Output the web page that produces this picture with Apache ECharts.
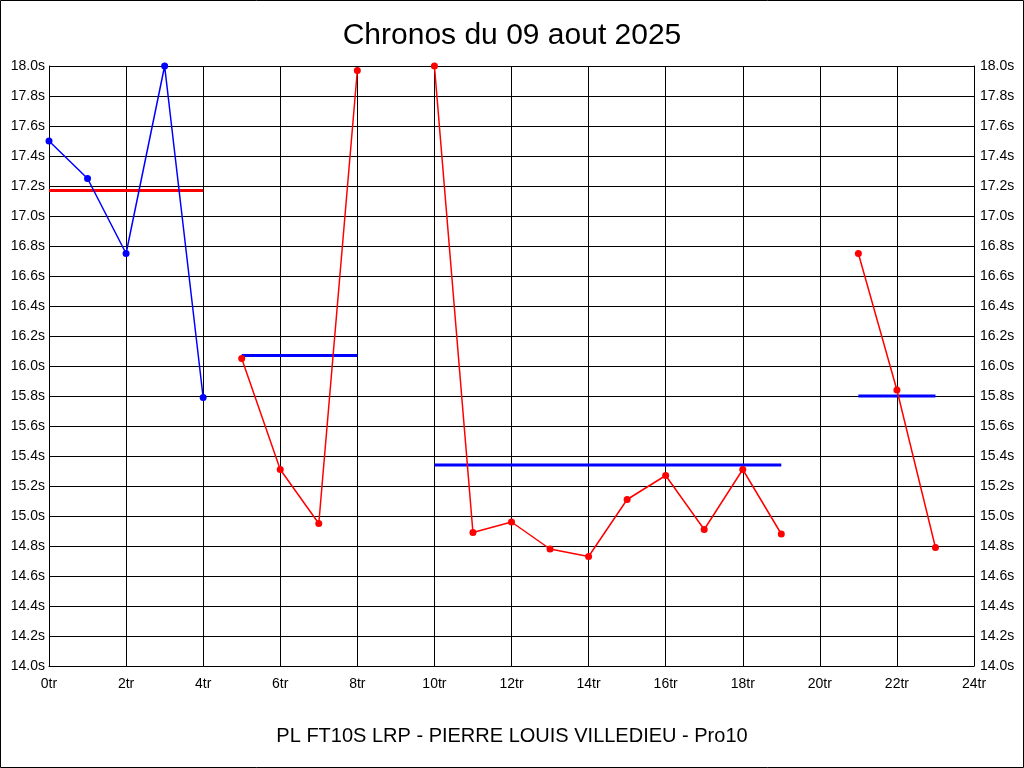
<!DOCTYPE html>
<html>
<head>
<meta charset="utf-8">
<script src="https://cdn.jsdelivr.net/npm/echarts@6/dist/echarts.min.js"></script>
<style>
html,body{margin:0;padding:0;background:#fff;}
#chart{width:1024px;height:768px;}
</style>
</head>
<body>
<div id="chart"></div>
<script>
var titleText = 'Chronos du 09 aout 2025';
var subtitleText = 'PL FT10S LRP - PIERRE LOUIS VILLEDIEU - Pro10';

// Laps (x) and lap times in seconds (y), per run segment
var seg1Laps = [0, 1, 2, 3, 4];
var seg1Times = [17.50, 17.25, 16.75, 18.00, 15.79];
var seg1Avg = 17.17;

var seg2Laps = [5, 6, 7, 8];
var seg2Times = [16.05, 15.31, 14.95, 17.97];
var seg2Avg = 16.07;

var seg3Laps = [10, 11, 12, 13, 14, 15, 16, 17, 18, 19];
var seg3Times = [18.00, 14.89, 14.96, 14.78, 14.73, 15.11, 15.27, 14.91, 15.31, 14.88];
var seg3Avg = 15.34;

var seg4Laps = [21, 22, 23];
var seg4Times = [16.75, 15.84, 14.79];
var seg4Avg = 15.80;

var BLUE = '#0000ff', RED = '#ff0000';

function pts(laps, times){ return laps.map(function(l,i){ return [l, times[i]]; }); }
function avgPts(laps, avg){ return [[laps[0], avg], [laps[laps.length-1], avg]]; }

function lineSeries(laps, times, color){
  return {
    type:'line', data: pts(laps, times), symbol:'circle', symbolSize:7,
    lineStyle:{color:color, width:1.5}, itemStyle:{color:color},
    animation:false, silent:true, z:3
  };
}
function avgSeries(laps, avg, color){
  return {
    type:'line', data: avgPts(laps, avg), symbol:'none',
    lineStyle:{color:color, width:3}, animation:false, silent:true, z:2
  };
}

var yLabelFmt = function(v){ return v.toFixed(1) + 's'; };
var FONT = '"Liberation Sans", Arial, sans-serif';

var chart = echarts.init(document.getElementById('chart'), null, {renderer:'canvas'});
chart.setOption({
  backgroundColor:'#fff',
  animation:false,
  title:[
    {text:titleText, left:'center', top:16, textStyle:{fontFamily:FONT, fontSize:30, fontWeight:'normal', color:'#000'}},
    {text:subtitleText, left:'center', top:721, textStyle:{fontFamily:FONT, fontSize:20, fontWeight:'normal', color:'#000'}}
  ],
  grid:{left:49, right:50, top:66, bottom:102, containLabel:false},
  xAxis:{
    type:'value', min:0, max:24, interval:2,
    axisLine:{show:true, lineStyle:{color:'#000', width:1}},
    axisTick:{show:false},
    axisLabel:{formatter:function(v){return v+'tr';}, color:'#000', fontFamily:FONT, fontSize:14, margin:11},
    splitLine:{show:true, lineStyle:{color:'#000', width:1}}
  },
  yAxis:[
    {
      type:'value', min:14, max:18, interval:0.2, position:'left',
      axisLine:{show:true, lineStyle:{color:'#000'}},
      axisTick:{show:false},
      axisLabel:{formatter:yLabelFmt, color:'#000', fontFamily:FONT, fontSize:14, margin:4},
      splitLine:{show:true, lineStyle:{color:'#000', width:1}}
    },
    {
      type:'value', min:14, max:18, interval:0.2, position:'right',
      axisLine:{show:true, lineStyle:{color:'#000'}},
      axisTick:{show:false},
      axisLabel:{formatter:yLabelFmt, color:'#000', fontFamily:FONT, fontSize:14, margin:6},
      splitLine:{show:false}
    }
  ],
  graphic:[{
    type:'rect', shape:{x:0.5, y:0.5, width:1023, height:767},
    style:{fill:null, stroke:'#000', lineWidth:1}, silent:true, z:-1
  }],
  series:[
    avgSeries(seg1Laps, seg1Avg, RED),
    lineSeries(seg1Laps, seg1Times, BLUE),
    avgSeries(seg2Laps, seg2Avg, BLUE),
    lineSeries(seg2Laps, seg2Times, RED),
    avgSeries(seg3Laps, seg3Avg, BLUE),
    lineSeries(seg3Laps, seg3Times, RED),
    avgSeries(seg4Laps, seg4Avg, BLUE),
    lineSeries(seg4Laps, seg4Times, RED)
  ]
});
</script>
</body>
</html>
